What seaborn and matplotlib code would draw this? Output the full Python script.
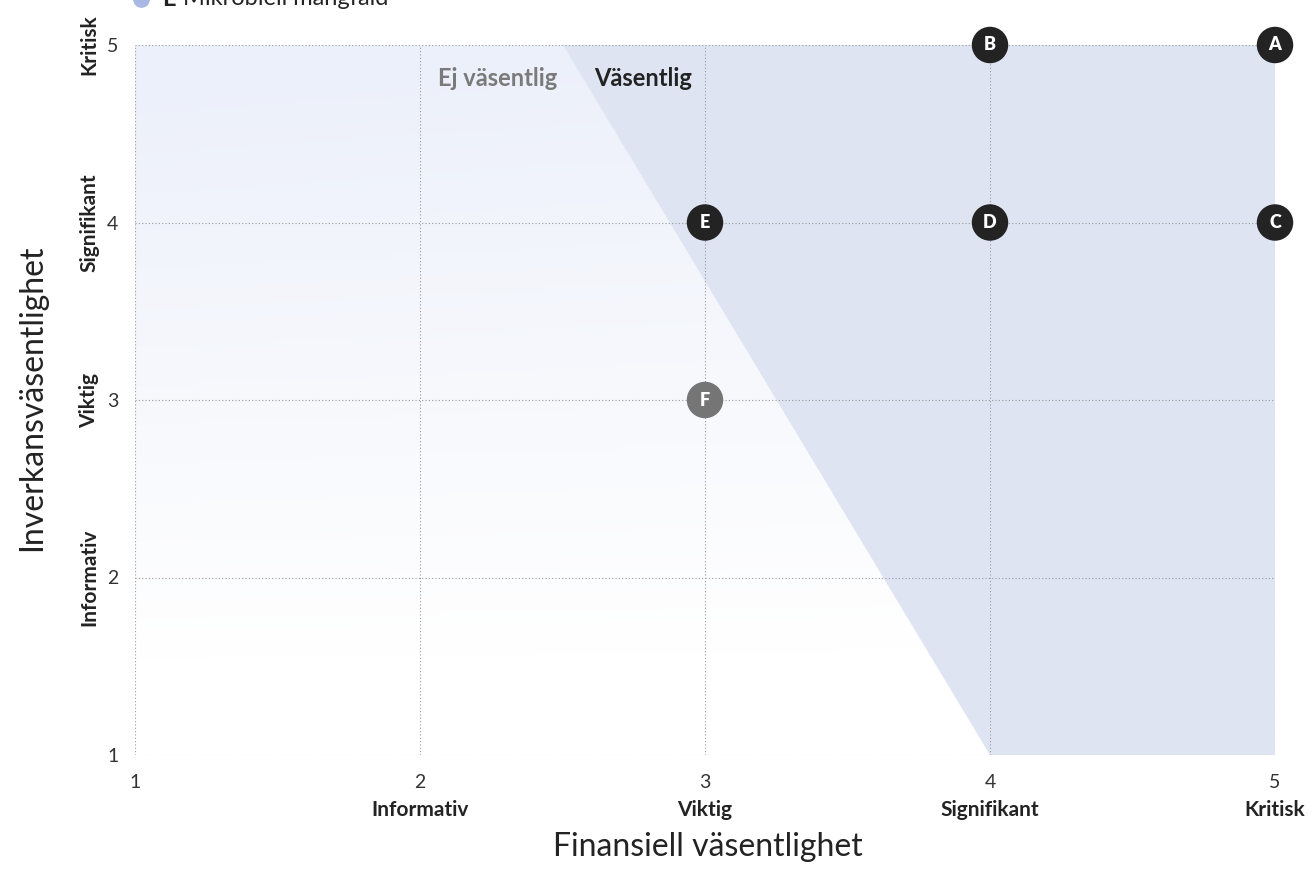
import numpy as np
import pandas as pd
import seaborn as sns
import matplotlib.pyplot as plt
from matplotlib.colors import LinearSegmentedColormap
from matplotlib.lines import Line2D

# --- Data ---
topics = ["A", "B", "C", "D", "E", "F"]
financial = [5, 4, 5, 4, 3, 3]
impact = [5, 5, 4, 4, 4, 3]
status = ["Väsentlig", "Väsentlig", "Väsentlig", "Väsentlig", "Väsentlig", "Gränsfall"]

tick_values = [1, 2, 3, 4, 5]
level_labels = ["", "Informativ", "Viktig", "Signifikant", "Kritisk"]

# materiality threshold boundary (polygon corners on the scale)
zone_x = [2.5, 5, 5, 4]
zone_y = [5, 5, 1, 1]

data = pd.DataFrame({"Topic": topics, "Financial": financial,
                     "Impact": impact, "Status": status})

# --- Figure ---
sns.set_style("white")
plt.rcParams["font.family"] = ["Lato", "DejaVu Sans"]

fig = plt.figure(figsize=(13.08, 8.86), dpi=100)
ax = fig.add_axes([135 / 1308, 1 - 755 / 886, 1140 / 1308, 710 / 886])

# soft gradient background
gx, gy = np.meshgrid(np.linspace(0, 1, 200), np.linspace(0, 1, 200))
grad = np.clip((gy - 0.15) / 0.85 * 0.9 + (1 - gx) * 0.15 * gy, 0, 1)
cmap = LinearSegmentedColormap.from_list("bg", ["#ffffff", "#ecf0fa"])
ax.imshow(grad, extent=(1, 5, 1, 5), origin="lower", cmap=cmap,
          aspect="auto", zorder=0, vmin=0, vmax=1)

# material zone
ax.fill(zone_x, zone_y, color="#dfe4f3", zorder=1, lw=0)

# grid
for v in tick_values:
    ax.axvline(v, color="#9a9a9a", lw=0.8, ls=(0, (1, 2)), zorder=2)
    ax.axhline(v, color="#9a9a9a", lw=0.8, ls=(0, (1, 2)), zorder=2)

sns.scatterplot(data=data, x="Financial", y="Impact", hue="Status",
                palette={"Väsentlig": "#232323", "Gränsfall": "#757575"},
                s=690, edgecolor="none", legend=False, ax=ax, zorder=5,
                clip_on=False)

for _, r in data.iterrows():
    ax.text(r["Financial"], r["Impact"], r["Topic"], color="white",
            ha="center", va="center", fontsize=13, fontweight="heavy",
            zorder=6, clip_on=False)

ax.text(2.48, 4.81, "Ej väsentlig", ha="right", va="center", fontsize=17,
        fontweight="bold", color="#7a7a7a", zorder=4)
ax.text(2.61, 4.81, "Väsentlig", ha="left", va="center", fontsize=17,
        fontweight="bold", color="#232323", zorder=4)

ax.set_xlim(1, 5)
ax.set_ylim(1, 5)
sns.despine(ax=ax, left=True, bottom=True)
ax.set_xticks(tick_values)
ax.set_yticks(tick_values)
ax.set_xticklabels([str(v) for v in tick_values], fontsize=14, color="#333333")
ax.set_yticklabels([str(v) for v in tick_values], fontsize=14, color="#333333")
ax.tick_params(length=0, pad=12)
ax.tick_params(axis="x", pad=14)

# level names under / beside ticks
for v, lab in zip(tick_values, level_labels):
    if not lab:
        continue
    ax.text(v, -0.064, lab, transform=ax.get_xaxis_transform(), ha="center",
            va="top", fontsize=15, fontweight="bold", color="#232323")
    ax.text(-0.040, v, lab, transform=ax.get_yaxis_transform(), ha="center",
            va="center", rotation=90, fontsize=15, fontweight="bold",
            color="#232323")

fig.text(708 / 1308, 1 - 847 / 886, "Finansiell väsentlighet", ha="center",
         va="center", fontsize=23, color="#232323")
fig.text(32 / 1308, 1 - 398 / 886, "Inverkansväsentlighet", ha="center",
         va="center", rotation=90, fontsize=23, color="#232323")
ax.set_xlabel("")
ax.set_ylabel("")

# legend entry at the top edge (clipped as in the original)
fig.add_artist(Line2D([141 / 1308], [1 + 1 / 886], marker="o", markersize=11,
                      color="#a9b8e3", transform=fig.transFigure, clip_on=False))
fig.text(162 / 1308, 1 + 1 / 886, "E", ha="left", va="center", fontsize=17,
         fontweight="bold", color="#232323")
fig.text(183 / 1308, 1 + 1 / 886, "Mikrobiell mångfald", ha="left",
         va="center", fontsize=17, color="#232323")

plt.savefig("out.png", dpi=100)
